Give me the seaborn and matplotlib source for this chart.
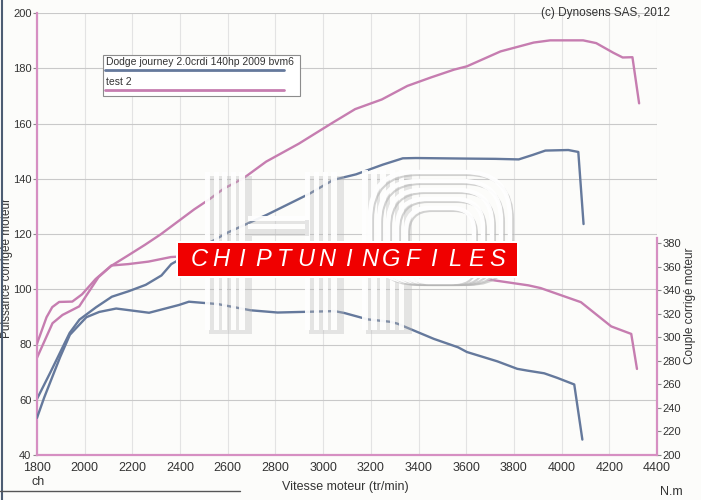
import matplotlib
matplotlib.use("Agg")
import matplotlib.pyplot as plt
import seaborn as sns
import pandas as pd
from matplotlib.patches import Rectangle, FancyBboxPatch

# ---- data (rotation of the scan corrected) ----
# stock car, power (ch)
rpm_stock_power = [1800, 1856, 1937, 1978, 2048, 2114, 2185, 2256, 2322, 2363, 2599, 2765,
                   2943, 3043, 3138, 3250, 3334, 3389, 3597, 3723, 3820, 3878, 3932, 4028,
                   4070, 4092]
stock_power = [60.3, 69.9, 84.2, 89.0, 93.5, 97.3, 99.3, 101.6, 105.0, 109.1, 120.5, 127.0,
               134.6, 139.6, 141.6, 145.1, 147.4, 147.5, 147.3, 147.2, 147.0, 148.6, 150.2, 150.4,
               149.7, 123.6]
# stock car, torque (N.m)
rpm_stock_torque = [1800, 1830, 1897, 1938, 2007, 2061, 2132, 2270, 2395, 2437, 2479, 2558,
                    2696, 2809, 3048, 3089, 3186, 3283, 3312, 3464, 3566, 3603, 3730, 3814,
                    3856, 3927, 3982, 4053, 4087]
stock_torque = [231.6, 248.8, 283.3, 302.3, 317.2, 321.7, 324.6, 321.0, 327.6, 330.4, 329.7, 328.4,
                323.1, 321.2, 322.4, 320.8, 315.4, 313.3, 311.7, 298.8, 291.6, 287.6, 279.7, 273.3,
                271.8, 269.5, 265.6, 260.0, 213.1]
# test 2, power (ch)
rpm_tuned_power = [1800, 1865, 1907, 1977, 2058, 2112, 2183, 2253, 2319, 2389, 2459, 2525,
                   2583, 2666, 2761, 2898, 3038, 3134, 3246, 3353, 3453, 3549, 3603, 3744,
                   3883, 3952, 4090, 4145, 4217, 4256, 4297, 4325]
tuned_power = [75.2, 87.7, 90.7, 93.8, 104.4, 108.5, 112.3, 116.1, 119.9, 124.4, 128.9, 132.7,
               136.4, 140.2, 146.2, 152.7, 160.2, 165.2, 168.7, 173.6, 176.7, 179.5, 180.7, 186.1,
               189.3, 190.1, 190.1, 189.1, 185.6, 183.9, 184.0, 167.3]
# test 2, torque (N.m) - middle part is hidden behind the watermark, estimated
rpm_tuned_torque = [1800, 1840, 1864, 1893, 1948, 1989, 2046, 2112, 2183, 2267, 2362, 2583,
                    2761, 3038, 3246, 3388, 3480, 3568, 3861, 3912, 4081, 4208, 4292, 4316]
tuned_torque = [294.7, 317.2, 325.8, 330.2, 330.5, 336.7, 349.7, 361.2, 362.4, 364.5, 368.4, 371.0,
                372.0, 370.0, 365.0, 359.9, 356.9, 353.0, 344.3, 342.0, 330.0, 309.4, 303.0, 273.2]

x_ticks = list(range(1800, 4401, 200))
power_ticks = list(range(40, 201, 20))
torque_ticks = list(range(200, 381, 20))

legend_stock = "Dodge journey 2.0crdi 140hp 2009 bvm6"
legend_tuned = "test 2"

BLUE = "#65799c"
PINK = "#c67db0"
SPINE = "#d68fc2"
BG = "#fcfcfa"
TXT = "#333333"

sns.set_theme(style="white")
plt.rcParams['font.family'] = ['Liberation Sans', 'DejaVu Sans']

fig = plt.figure(figsize=(7.01, 5.0), dpi=100, facecolor=BG)
ax = fig.add_axes([37/701, 45/500, 620/701, 442/500])
ax.set_facecolor(BG)
ax2 = ax.twinx()

df_sp = pd.DataFrame({"rpm": rpm_stock_power, "val": stock_power})
df_tp = pd.DataFrame({"rpm": rpm_tuned_power, "val": tuned_power})
df_st = pd.DataFrame({"rpm": rpm_stock_torque, "val": stock_torque})
df_tt = pd.DataFrame({"rpm": rpm_tuned_torque, "val": tuned_torque})

sns.lineplot(data=df_sp, x="rpm", y="val", ax=ax, color=BLUE, lw=1.7, legend=False)
sns.lineplot(data=df_tp, x="rpm", y="val", ax=ax, color=PINK, lw=1.7, legend=False)
sns.lineplot(data=df_st, x="rpm", y="val", ax=ax2, color=BLUE, lw=1.7, legend=False)
sns.lineplot(data=df_tt, x="rpm", y="val", ax=ax2, color=PINK, lw=1.7, legend=False)

ax.set_xlim(1800, 4400)
ax.set_ylim(40, 200)
ax2.set_ylim(200, 576)
ax.set_xticks(x_ticks)
ax.set_yticks(power_ticks)
ax2.set_yticks(torque_ticks)
for a in (ax, ax2):
    a.set_xlabel("")
    a.set_ylabel("")

ax.grid(axis="y", color="#c9c9c9", lw=0.8)
ax.grid(axis="x", color="#e3e3e3", lw=0.8)
ax2.grid(False)

for s in ("top", "right"):
    ax.spines[s].set_visible(False)
for s in ("top", "left", "bottom"):
    ax2.spines[s].set_visible(False)
for s in ("left", "bottom"):
    ax.spines[s].set_color(SPINE)
    ax.spines[s].set_linewidth(1.6)
ax2.spines["right"].set_color(SPINE)
ax2.spines["right"].set_linewidth(1.6)
ax2.spines["right"].set_bounds(200, 385)

ax.tick_params(axis="x", direction="in", length=6, width=1.2, color=SPINE,
               labelsize=9, labelcolor=TXT, pad=5)
ax.tick_params(axis="y", direction="out", length=3, width=0.8, color="#8a8a8a",
               labelsize=8, labelcolor=TXT, pad=1)
ax2.tick_params(axis="y", direction="out", length=3, width=0.8, color="#8a8a8a",
                labelsize=8, labelcolor=TXT, pad=1)

fig.text(7/701, 1 - 268/500, "Puissance corrigée moteur", rotation=90, va="center",
         ha="center", fontsize=8.5, color=TXT)
fig.text(690/701, 1 - 306/500, "Couple corrigé moteur", rotation=90, va="center",
         ha="center", fontsize=8.5, color=TXT)
fig.text(345/701, 1 - 487/500, "Vitesse moteur (tr/min)", ha="center", va="center",
         fontsize=9, color=TXT)
fig.text(31/701, 1 - 482/500, "ch", ha="left", va="center", fontsize=9, color=TXT)
fig.text(660/701, 1 - 492/500, "N.m", ha="left", va="center", fontsize=9, color=TXT)
fig.text(670/701, 1 - 13/500, "(c) Dynosens SAS, 2012", ha="right", va="center",
         fontsize=8.5, color=TXT)

# ---- overlay in pixel coords: legend box, watermark, scan border ----
ov = fig.add_axes([0, 0, 1, 1])
ov.set_xlim(0, 701)
ov.set_ylim(500, 0)
ov.axis("off")
ov.set_zorder(10)

# legend
ov.add_patch(Rectangle((103, 55), 197, 41, fc="white", ec="#8c8c8c", lw=0.8))
ov.text(106, 67, legend_stock, fontsize=7.5, color=TXT, va="bottom", ha="left")
ov.plot([105, 284], [70, 70], color=BLUE, lw=2)
ov.text(106, 87, legend_tuned, fontsize=7.5, color=TXT, va="bottom", ha="left")
ov.plot([105, 284], [90, 90], color=PINK, lw=2)


def stripes(x0, x1, y0, y1, n, horizontal=False):
    ov.add_patch(Rectangle((x0 + 4, y0 + 4), x1 - x0, y1 - y0, fc="#b9b9b9", ec="none", alpha=0.35))
    if horizontal:
        w = (y1 - y0) / n
        for i in range(n):
            ov.add_patch(Rectangle((x0, y0 + i * w), x1 - x0, w * 0.6, fc="white", ec="none", alpha=0.93))
    else:
        w = (x1 - x0) / n
        for i in range(n):
            ov.add_patch(Rectangle((x0 + i * w, y0), w * 0.6, y1 - y0, fc="white", ec="none", alpha=0.93))


# "H"
stripes(205, 248, 172, 330, 5)
stripes(305, 340, 172, 330, 4)
stripes(248, 305, 216, 232, 2, horizontal=True)
# "P"
stripes(362, 408, 170, 330, 5)
for k in range(5):
    ins = k * 9
    ov.add_patch(FancyBboxPatch((370 + ins + 3, 172 + ins + 3), 140 - 2 * ins, 110 - ins,
                                boxstyle="round,pad=0,rounding_size=%d" % (45 - ins * 0.6),
                                fc="none", ec="#b5b5b5", lw=1.5, alpha=0.6))
    ov.add_patch(FancyBboxPatch((370 + ins, 172 + ins), 140 - 2 * ins, 110 - ins,
                                boxstyle="round,pad=0,rounding_size=%d" % (45 - ins * 0.6),
                                fc="none", ec="white", lw=3.2, alpha=0.95))

# red banner
ov.add_patch(Rectangle((176, 241), 343, 37, fc="white", ec="none"))
ov.add_patch(Rectangle((178, 243), 339, 33, fc="#f00000", ec="none"))
word = "CHIPTUNINGFILES"
for i, ch in enumerate(word):
    ov.text(199 + i * 21.3, 260, ch, color="white", fontsize=17, fontstyle="italic",
            ha="center", va="center")

# scan border artefacts
ov.plot([1.5, 1.5], [0, 500], color="#4d5d73", lw=1.5)
ov.plot([0, 240], [491, 491], color="#555555", lw=1)

fig.savefig("out.png", dpi=100, facecolor=BG)
